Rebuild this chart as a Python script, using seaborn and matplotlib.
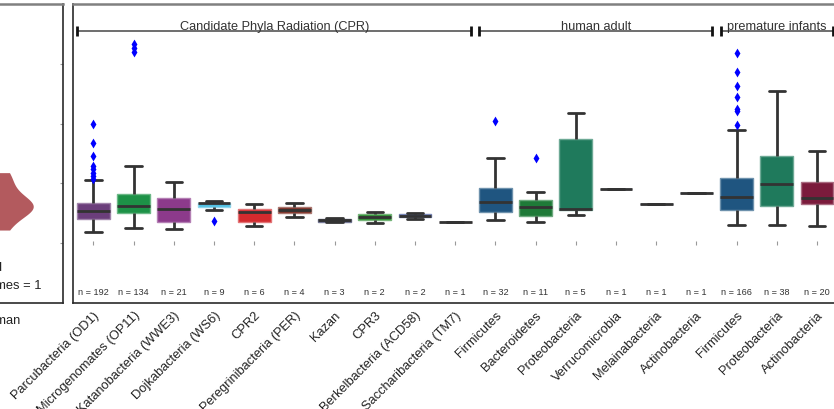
import matplotlib
matplotlib.use("Agg")
import matplotlib.pyplot as plt
import numpy as np
import pandas as pd
import seaborn as sns

# ---- data -------------------------------------------------------------
phyla = [
    "Parcubacteria (OD1)", "Microgenomates (OP11)", "Katanobacteria (WWE3)",
    "Dojkabacteria (WS6)", "CPR2", "Peregrinibacteria (PER)", "Kazan", "CPR3",
    "Berkelbacteria (ACD58)", "Saccharibacteria (TM7)",
    "Firmicutes", "Bacteroidetes", "Proteobacteria", "Verrucomicrobia",
    "Melainabacteria", "Actinobacteria",
    "Firmicutes", "Proteobacteria", "Actinobacteria",
]
group_labels = ["Candidate Phyla Radiation (CPR)", "human adult", "premature infants"]
group_sizes = [10, 6, 3]
n_genomes = [192, 134, 21, 9, 6, 4, 3, 2, 2, 1, 32, 11, 5, 1, 1, 1, 166, 38, 20]

whisker_low = [0.19, 0.25, 0.23, 0.56, 0.28, 0.43, 0.35, 0.33, 0.40, 0.36,
               0.38, 0.35, 0.47, 0.905, 0.655, 0.84, 0.305, 0.305, 0.28]
q1 = [0.405, 0.50, 0.35, 0.60, 0.35, 0.51, 0.355, 0.38, 0.43, 0.36,
      0.53, 0.45, 0.56, 0.905, 0.655, 0.84, 0.555, 0.63, 0.65]
median = [0.54, 0.63, 0.57, 0.665, 0.52, 0.56, 0.38, 0.43, 0.46, 0.36,
          0.69, 0.60, 0.57, 0.905, 0.655, 0.84, 0.77, 0.99, 0.76]
q3 = [0.67, 0.83, 0.76, 0.68, 0.57, 0.60, 0.405, 0.48, 0.48, 0.36,
      0.93, 0.73, 1.75, 0.905, 0.655, 0.84, 1.09, 1.45, 1.02]
whisker_high = [1.05, 1.29, 1.03, 0.70, 0.65, 0.67, 0.42, 0.53, 0.505, 0.36,
                1.43, 0.86, 2.18, 0.905, 0.655, 0.84, 1.90, 2.54, 1.54]
outliers = [
    [1.07, 1.13, 1.18, 1.24, 1.29, 1.45, 1.67, 2.00],
    [3.20, 3.27, 3.33],
    [], [0.37], [], [], [], [], [], [],
    [2.04], [1.42], [], [], [], [],
    [1.98, 2.21, 2.25, 2.44, 2.63, 2.87, 3.18],
    [], [],
]
box_colors = [
    "#6b3e7b", "#1d9247", "#8c3a8b", "#52c0e3", "#d32a2e", "#7a2c22",
    "#2b2f5e", "#2a8c2f", "#2f4590", "#a88f9c",
    "#1f5580", "#1f7a38", "#1f7a5c", "#4e5a7a", "#3e4a78", "#4a5a7e",
    "#1f5580", "#1f7a5c", "#7b1b3c",
]
baseline = [0.0] * len(phyla)

human_values = [0.22, 0.36, 0.46, 0.52, 0.56, 0.59, 0.61, 0.63, 0.66,
                0.70, 0.76, 0.84, 0.95, 1.08, 1.18]
human_notes = ["curated", "n genomes = 1"]

# ---- tables for seaborn ------------------------------------------------
group_of = [g for g, s in zip(group_labels, group_sizes) for _ in range(s)]
slots = [f"{g}: {p}" for g, p in zip(group_of, phyla)]

box_rows = []
for s, lo, a, m, b, hi in zip(slots, whisker_low, q1, median, q3, whisker_high):
    for v in (lo, a, m, b, hi):
        box_rows.append((s, v))
box_df = pd.DataFrame(box_rows, columns=["slot", "value"])
out_df = pd.DataFrame([(s, v) for s, vals in zip(slots, outliers) for v in vals],
                      columns=["slot", "value"])

# ---- figure ------------------------------------------------------------
sns.set_style("white")
plt.rcParams["font.family"] = ["Liberation Sans", "DejaVu Sans"]

W, H = 834, 410
fig = plt.figure(figsize=(W / 100, H / 100), dpi=100)


def px_rect(x0, y0, x1, y1):
    return [x0 / W, 1 - y1 / H, (x1 - x0) / W, (y1 - y0) / H]


ax0 = fig.add_axes(px_rect(-61, 5, 63, 304))
ax = fig.add_axes(px_rect(73.3, 5, 837.1, 304))

# left panel: violin
sns.violinplot(y=human_values, ax=ax0, color="#b35a5e", inner=None, cut=0,
               width=0.52, linewidth=0, saturation=1)
ax0.set_xlim(-0.5, 0.5)
ax0.set_ylim(-1, 4)
ax0.set_xticks([0])
ax0.set_xticklabels(["human"], fontsize=9.3, color="#222")
ax0.set_yticks([0, 1, 2, 3])
ax0.tick_params(axis="x", length=0, pad=8)
ax0.tick_params(axis="y", left=False, right=True, direction="in", length=2.5,
                width=0.8, color="#999", labelleft=False, labelright=False)
ax0.text(0.016, -0.40, human_notes[0], ha="right", va="center", fontsize=9.3, color="#222")
ax0.text(0.33, -0.70, human_notes[1], ha="right", va="center", fontsize=9.3, color="#222")
ax0.set_xlabel("")
ax0.set_ylabel("")

# main panel: boxes
sns.boxplot(data=box_df, x="slot", y="value", hue="slot", order=slots,
            hue_order=slots, palette=dict(zip(slots, box_colors)), legend=False,
            saturation=1, width=0.82, whis=(0, 100), showfliers=False,
            linecolor="#333333", linewidth=2, ax=ax)
for patch in ax.patches:
    fc = np.array(patch.get_facecolor()[:3])
    patch.set_edgecolor(tuple(fc + (1 - fc) * 0.35))
    patch.set_linewidth(1.0)

sns.stripplot(data=out_df, x="slot", y="value", order=slots, jitter=False,
              marker="d", color="#0000ff", size=5, linewidth=0, ax=ax)
sns.stripplot(x=slots, y=baseline, order=slots, jitter=False, marker="|",
              color="#999999", size=2.5, linewidth=0.8, ax=ax)

ax.set_xlim(-0.5, len(slots) - 0.5)
ax.set_ylim(-1, 4)
ax.set_yticks([0, 1, 2, 3])
ax.tick_params(axis="y", direction="in", length=2.5, width=0.8, color="#999",
               labelleft=False)
ax.set_xticks(range(len(slots)))
ax.set_xticklabels(phyla, rotation=45, ha="right", rotation_mode="anchor",
                   fontsize=9.3, color="#222")
ax.tick_params(axis="x", length=0, pad=4)
ax.set_xlabel("")
ax.set_ylabel("")

for i, n in enumerate(n_genomes):
    ax.text(i, -0.80, f"n = {n}", ha="center", va="center", fontsize=6.6, color="#333")

start = 0
for label, size in zip(group_labels, group_sizes):
    lo, hi = start - 0.4, start + size - 1 + 0.4
    ax.plot([lo, hi], [3.55, 3.55], color="#555555", lw=1.2, solid_capstyle="butt")
    ax.plot([lo, hi], [3.55, 3.55], ls="none", marker="|", ms=7, mew=2, color="#111111")
    ax.text((lo + hi) / 2, 3.575, label, ha="center", va="baseline",
            fontsize=9.2, color="#333")
    start += size

for a in (ax0, ax):
    for side, sp in a.spines.items():
        sp.set_visible(True)
        if side == "top":
            sp.set_color("#808080")
            sp.set_linewidth(1.8)
        else:
            sp.set_color("#2a2a2a")
            sp.set_linewidth(1.2)

fig.savefig("out.png", dpi=100)
